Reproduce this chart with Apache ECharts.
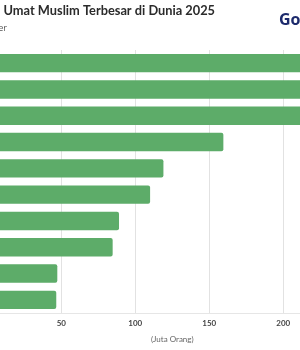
<!DOCTYPE html>
<html><head><meta charset="utf-8">
<script src="https://cdn.jsdelivr.net/npm/echarts@6/dist/echarts.min.js"></script>
<style>html,body{margin:0;padding:0;background:#fff}#c{width:300px;height:350px}</style>
</head><body><div id="c"></div>
<script>
var categories = ["Indonesia","Pakistan","India","Bangladesh","Nigeria","Mesir","Iran","Turki","Aljazair","Irak"];
var values = [242, 240, 213, 159.5, 119, 110, 89, 84.7, 47.3, 46.6];
var titleText = "Negara dengan Umat Muslim Terbesar di Dunia 2025";
var subtitleText = "Sumber";
var axisName = "(Juta Orang)";
var logoText = "GoodStats";

var chart = echarts.init(document.getElementById('c'), null, {renderer:'canvas'});
chart.setOption({
  animation: false,
  grid: {left: -12.7, width: 370, top: 50, height: 263, containLabel: false, outerBoundsMode: 'none'},
  xAxis: {
    type: 'value', min: 0, max: 250, interval: 50,
    axisLine: {show: true, lineStyle: {color: '#e6e6e6'}},
    axisTick: {show: false},
    splitLine: {show: true, lineStyle: {color: '#e2e2e2', width: 1}},
    axisLabel: {color: '#444', fontSize: 8, fontWeight: 'bold', fontFamily: 'Lato', margin: 6},
    name: axisName, nameLocation: 'middle', nameGap: 22,
    nameTextStyle: {color: '#666', fontSize: 8, fontFamily: 'Lato'}
  },
  yAxis: {
    type: 'category', data: categories, inverse: true,
    axisLine: {show: false}, axisTick: {show: false}, axisLabel: {show: false}
  },
  series: [{
    type: 'bar', data: values, barCategoryGap: '30%',
    itemStyle: {color: '#5dac69', borderRadius: 2}
  }],
  graphic: [
    {type: 'text', x: 215, y: 11, style: {text: titleText, align: 'right', verticalAlign: 'middle', fill: '#2b2b2b', font: 'bold 12.8px Lato, sans-serif'}},
    {type: 'text', x: 7, y: 28.5, style: {text: subtitleText, align: 'right', verticalAlign: 'middle', fill: '#555', font: '9px "Open Sans", Lato, sans-serif'}},
    {type: 'text', x: 279, y: 20.5, style: {text: logoText, align: 'left', verticalAlign: 'middle', fill: '#1c2a6c', font: 'bold 16px "Open Sans", Lato, sans-serif'}}
  ]
});
</script></body></html>
